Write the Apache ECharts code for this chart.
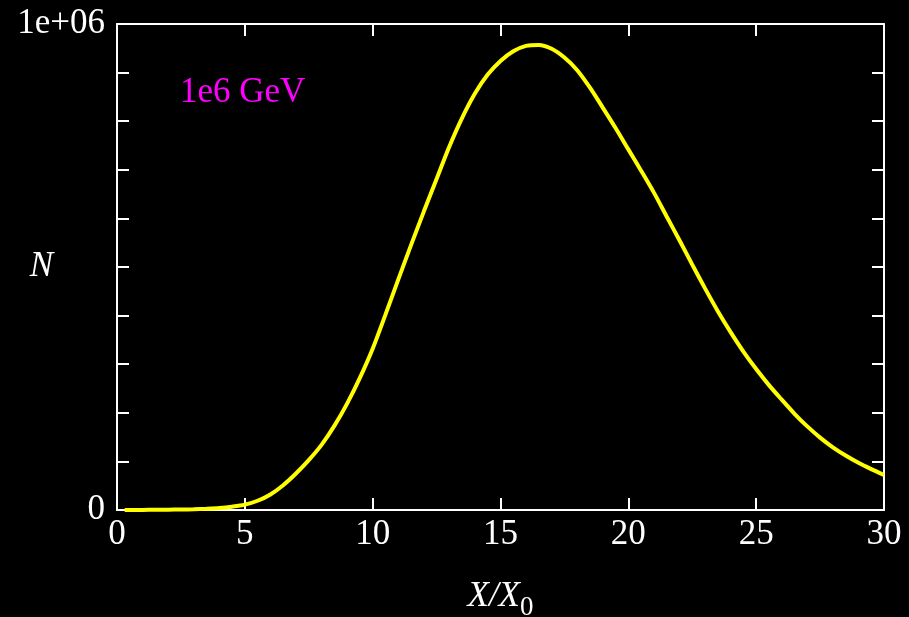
<!DOCTYPE html>
<html>
<head>
<meta charset="utf-8">
<title>Shower longitudinal profile</title>
<script src="https://cdn.jsdelivr.net/npm/echarts@6/dist/echarts.min.js"></script>
<style>
  html, body { margin: 0; padding: 0; background: #000; }
  #chart { width: 909px; height: 617px; }
</style>
</head>
<body>
<div id="chart"></div>
<script>
// Longitudinal shower profile: number of particles vs. depth in radiation lengths
const depth = [0.3, 1, 1.5, 2, 2.5, 3, 3.5, 4, 4.5, 5, 5.5, 6, 6.5, 7, 7.5, 8, 8.5, 9, 9.5, 10,
  10.5, 11, 11.5, 12, 12.5, 13, 13.5, 14, 14.5, 15, 15.5, 16, 16.5, 17, 17.5, 18, 18.5, 19, 19.5, 20,
  20.5, 21, 21.5, 22, 22.5, 23, 23.5, 24, 24.5, 25, 25.5, 26, 26.5, 27, 27.5, 28, 28.5, 29, 29.5, 30];
const particles = [0, 200, 400, 600, 1000, 1500, 2500, 4000, 6800, 11000, 19000, 32000, 51000, 75000, 102500, 134000, 173000, 219000, 272000, 332000,
  402000, 474000, 545000, 614000, 681000, 748000, 807000, 857000, 896000, 924000, 944000, 955000, 957000, 949000, 931000, 905000, 869000, 828000, 786000, 742000,
  698000, 653000, 604000, 555000, 505000, 456000, 409000, 366000, 326000, 290000, 257000, 227000, 198000, 172000, 149000, 129000, 112000, 97000, 84000, 72000];

const xTicks = [0, 5, 10, 15, 20, 25, 30];
const yTickLabels = [[0, '0'], [1000000, '1e+06']];
const energyLabel = '1e6 GeV';

const FONT = "'Liberation Serif', 'Times New Roman', serif";
const FG = '#ffffff';

const points = depth.map((x, i) => [x, particles[i]]);

const frameLine = { show: true, onZero: false, lineStyle: { color: FG, width: 2 } };
const inTicks = { show: true, inside: true, length: 12, lineStyle: { color: FG, width: 2 } };

const chart = echarts.init(document.getElementById('chart'), null, { renderer: 'canvas' });
chart.setOption({
  backgroundColor: '#000000',
  animation: false,
  title: {
    text: energyLabel,
    left: 175,
    top: 70,
    textStyle: { color: '#ff00ff', fontFamily: FONT, fontSize: 35, fontWeight: 'normal' }
  },
  grid: { left: 117, right: 25, top: 24, bottom: 107, containLabel: false, outerBoundsMode: 'none' },
  xAxis: [
    {
      type: 'value',
      min: 0, max: 30, interval: 5,
      axisLine: frameLine,
      axisTick: inTicks,
      splitLine: { show: false },
      axisLabel: {
        color: FG, fontFamily: FONT, fontSize: 35, margin: 7,
        formatter: v => xTicks.includes(v) ? String(v) : ''
      },
      name: '{i|X/X}{s|0}',
      nameLocation: 'middle',
      nameGap: 62,
      nameMoveOverlap: false,
      nameTextStyle: {
        rich: {
          i: { color: FG, fontFamily: FONT, fontSize: 35, fontStyle: 'italic' },
          s: { color: FG, fontFamily: FONT, fontSize: 27, padding: [22, 0, 0, 0] }
        }
      }
    },
    {
      type: 'value', position: 'top',
      min: 0, max: 30, interval: 5,
      axisLine: frameLine,
      axisTick: inTicks,
      axisLabel: { show: false },
      splitLine: { show: false }
    }
  ],
  yAxis: [
    {
      type: 'value',
      min: 0, max: 1000000, interval: 100000,
      axisLine: frameLine,
      axisTick: inTicks,
      splitLine: { show: false },
      axisLabel: {
        color: FG, fontFamily: FONT, fontSize: 35, margin: 12,
        showMinLabel: true, showMaxLabel: true,
        formatter: v => {
          const hit = yTickLabels.find(t => t[0] === v);
          return hit ? hit[1] : '';
        }
      },
      name: 'N',
      nameLocation: 'middle',
      nameRotate: 0,
      nameGap: 64,
      nameMoveOverlap: false,
      nameTextStyle: { color: FG, fontFamily: FONT, fontSize: 35, fontStyle: 'italic', padding: [0, 0, 6, 0] }
    },
    {
      type: 'value', position: 'right',
      min: 0, max: 1000000, interval: 100000,
      axisLine: frameLine,
      axisTick: inTicks,
      axisLabel: { show: false },
      splitLine: { show: false }
    }
  ],
  series: [
    {
      type: 'line',
      xAxisIndex: 0,
      yAxisIndex: 0,
      data: points,
      smooth: 0.3,
      showSymbol: false,
      clip: true,
      lineStyle: { color: '#ffff00', width: 4 },
      z: 1
    }
  ]
});
</script>
</body>
</html>
